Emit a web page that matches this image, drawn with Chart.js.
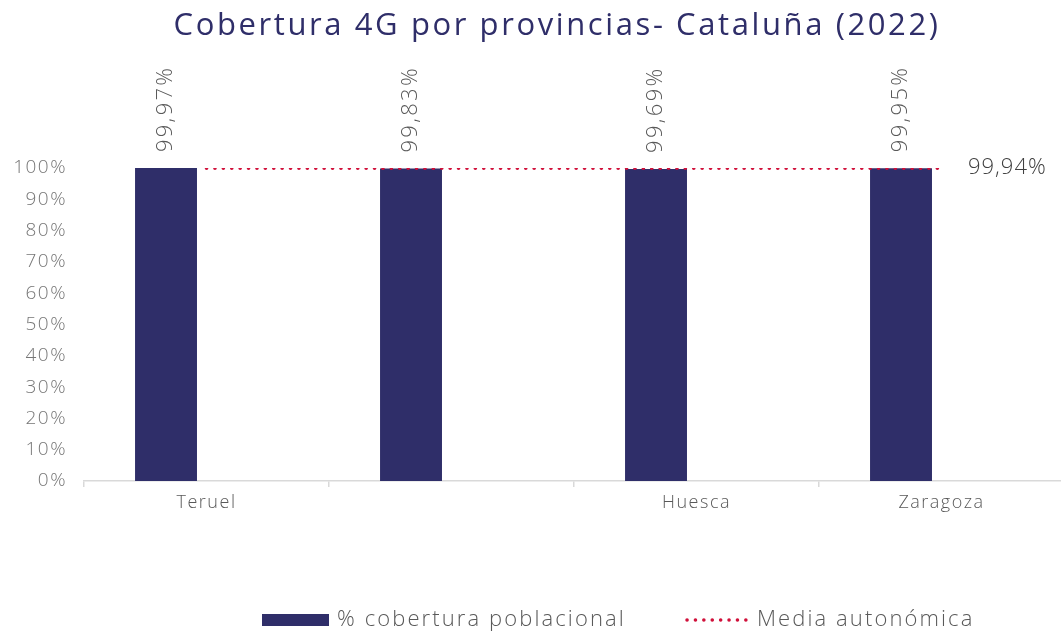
<!DOCTYPE html>
<html>
<head>
<meta charset="utf-8">
<script src="https://cdn.jsdelivr.net/npm/chart.js@4.4.0/dist/chart.umd.min.js"></script>
<style>
  html, body { margin: 0; padding: 0; background: #fff; overflow: hidden; }
  #wrap { width: 1061px; height: 633px; overflow: hidden; }
</style>
</head>
<body>
<div id="wrap"><canvas id="myChart" width="1064" height="633"></canvas></div>
<script>
const provincias = ['Teruel', '', 'Huesca', 'Zaragoza'];
const cobertura = [99.97, 99.83, 99.69, 99.95];
const media = [99.94, 99.94, 99.94, 99.94];
const yTickLabels = ['0%', '10%', '20%', '30%', '40%', '50%', '60%', '70%', '80%', '90%', '100%'];
const titulo = 'Cobertura 4G por provincias- Cataluña (2022)';
const serieBarras = '% cobertura poblacional';
const serieMedia = 'Media autonómica';

const FONT = "'Open Sans', sans-serif";
const NAVY = '#2f2e69';
const RED = '#d0103a';
const GRAY = '#595959';

function pct(v) {
  return v.toFixed(2).replace('.', ',') + '%';
}

// etiquetas, titulo y leyenda dibujados a mano
const extras = {
  id: 'extras',
  beforeDraw(chart) {
    // la fuente original es mas ancha, se compensa con espaciado
    chart.ctx.letterSpacing = '1.5px';
  },
  afterDatasetsDraw(chart) {
    const ctx = chart.ctx;
    ctx.save();
    ctx.font = '300 22px ' + FONT;
    ctx.letterSpacing = '2.3px';
    ctx.fillStyle = GRAY;

    // valores de las barras, en vertical
    chart.getDatasetMeta(0).data.forEach((bar, i) => {
      ctx.save();
      ctx.translate(bar.x, bar.y - 16);
      ctx.rotate(-Math.PI / 2);
      ctx.textAlign = 'left';
      ctx.textBaseline = 'middle';
      ctx.fillText(pct(cobertura[i]), 0, 0);
      ctx.restore();
    });

    // valor de la media al final de la linea
    const pts = chart.getDatasetMeta(2).data;
    const last = pts[pts.length - 1];
    ctx.letterSpacing = '1px';
    ctx.textAlign = 'left';
    ctx.textBaseline = 'middle';
    ctx.fillStyle = '#404040';
    ctx.fillText(pct(media[media.length - 1]), 968, last.y);
    ctx.restore();
  },
  afterDraw(chart) {
    const ctx = chart.ctx;
    ctx.save();
    ctx.font = '400 31px ' + FONT;
    ctx.letterSpacing = '2.6px';
    ctx.fillStyle = NAVY;
    ctx.textAlign = 'center';
    ctx.textBaseline = 'middle';
    ctx.fillText(titulo, 557, 26);

    // leyenda
    ctx.font = '300 22px ' + FONT;
    ctx.letterSpacing = '2.1px';
    ctx.textAlign = 'left';
    const ly = 620;
    ctx.fillStyle = NAVY;
    ctx.fillRect(262, ly - 6, 67, 12);
    ctx.fillStyle = GRAY;
    ctx.fillText(serieBarras, 337, ly);

    ctx.strokeStyle = RED;
    ctx.lineWidth = 3.5;
    ctx.lineCap = 'round';
    ctx.setLineDash([0.1, 8.3]);
    ctx.beginPath();
    ctx.moveTo(687, ly);
    ctx.lineTo(752, ly);
    ctx.stroke();
    ctx.setLineDash([]);
    ctx.fillText(serieMedia, 757, ly);
    ctx.restore();
  }
};

const ctx = document.getElementById('myChart').getContext('2d');
const myChart = new Chart(ctx, {
  type: 'bar',
  data: {
    labels: provincias,
    datasets: [
      {
        label: serieBarras,
        data: cobertura,
        backgroundColor: NAVY,
        categoryPercentage: 0.661,
        barPercentage: 0.765,
        order: 2
      },
      {
        label: 'hueco',
        data: [null, null, null, null],
        backgroundColor: 'transparent',
        categoryPercentage: 0.661,
        barPercentage: 0.765,
        order: 3
      },
      {
        type: 'line',
        label: serieMedia,
        data: media,
        borderColor: RED,
        borderWidth: 3.5,
        borderCapStyle: 'round',
        borderDash: [0.1, 8.3],
        pointRadius: 0,
        fill: false,
        order: 1
      }
    ]
  },
  options: {
    responsive: false,
    devicePixelRatio: 1,
    animation: false,
    layout: {
      padding: { top: 168, bottom: 112, left: 0, right: 0 }
    },
    plugins: {
      legend: { display: false },
      title: { display: false },
      tooltip: { enabled: false }
    },
    scales: {
      x: {
        offset: true,
        grid: {
          display: true,
          drawOnChartArea: false,
          drawTicks: true,
          tickLength: 6,
          color: '#d9d9d9',
          lineWidth: 1.5,
          offset: true
        },
        border: { color: '#d9d9d9', width: 1.5 },
        ticks: {
          color: GRAY,
          font: { family: FONT, size: 18, weight: '300' },
          padding: 5,
          maxRotation: 0
        },
        afterFit(scale) { scale.height = 40; }
      },
      y: {
        min: 0,
        max: 100,
        grid: { display: false, drawTicks: false },
        border: { display: false },
        ticks: {
          stepSize: 10,
          color: '#767676',
          font: { family: FONT, size: 19, weight: '300' },
          padding: 17,
          callback: (v, i) => yTickLabels[i]
        },
        afterFit(scale) { scale.width = 84; }
      }
    }
  },
  plugins: [extras]
});
</script>
</body>
</html>
